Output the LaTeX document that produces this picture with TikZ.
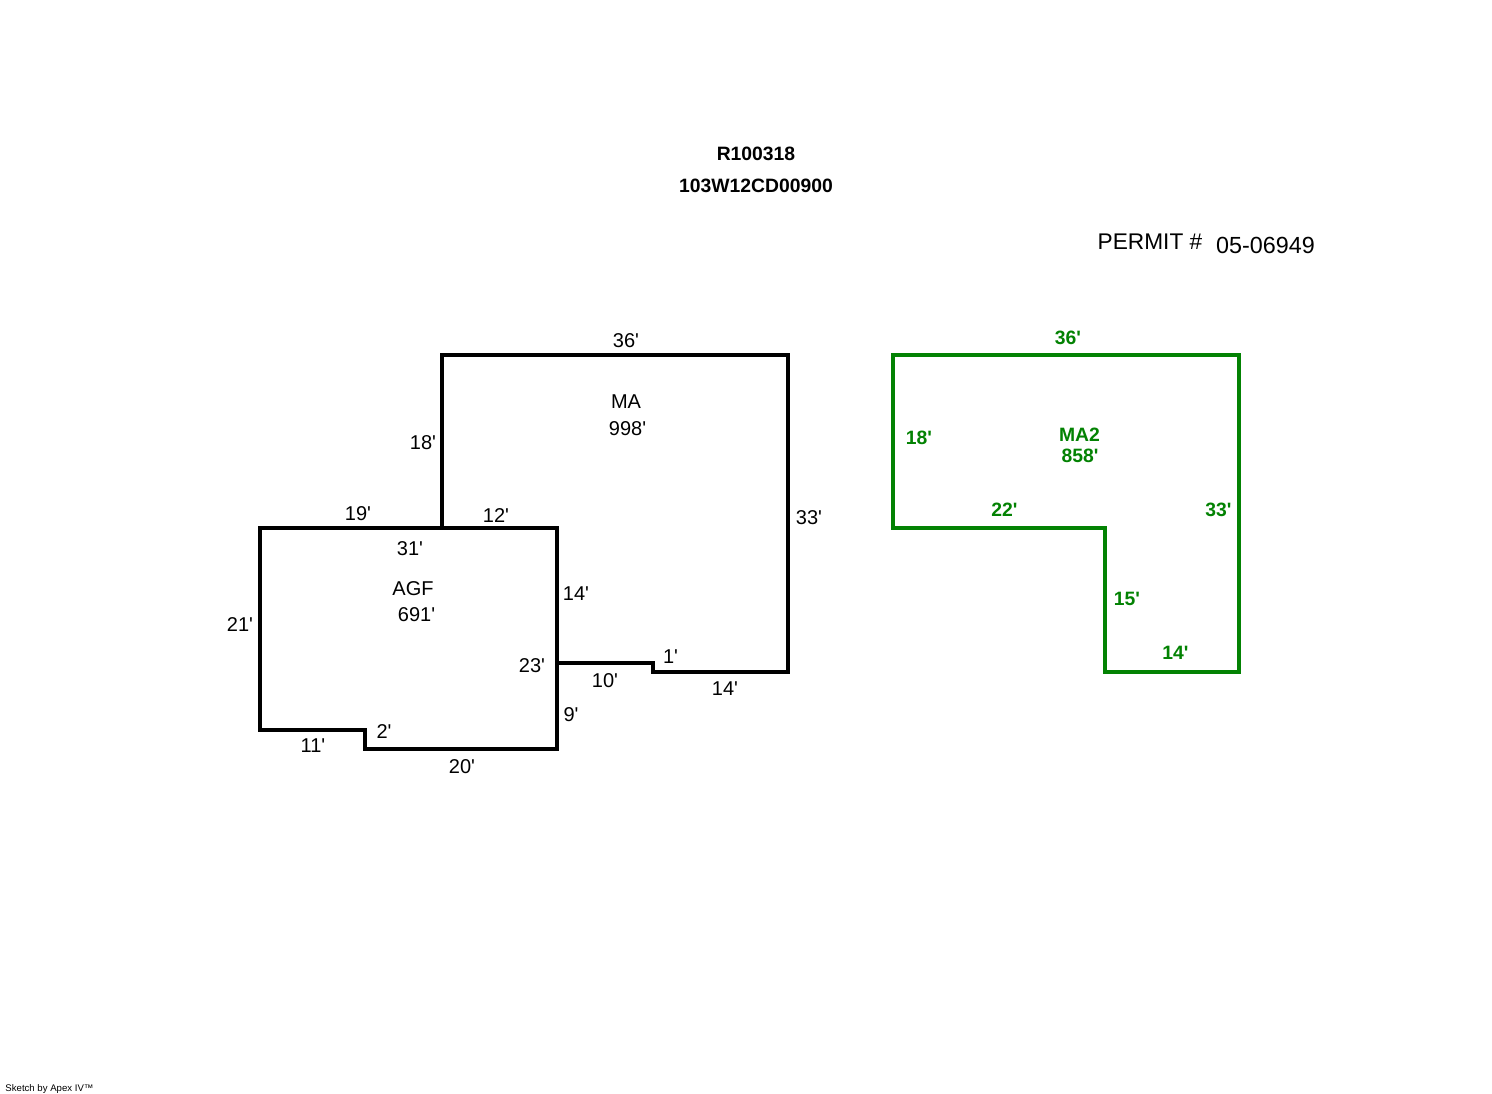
\documentclass[tikz,border=0pt]{standalone}
\usepackage{fontspec}
\newfontfamily\planfont{Liberation Sans}
\definecolor{plangreen}{HTML}{038203}
\tikzset{
  wall/.style={draw, line width=3pt, line join=miter},
  addition/.style={wall, draw=plangreen},
  dim/.style={inner sep=0pt, yshift=-0.75pt, font=\planfont\fontsize{15}{15}\selectfont},
  greendim/.style={inner sep=0pt, yshift=-0.75pt, text=plangreen, font=\planfont\bfseries\fontsize{14.5}{14.5}\selectfont},
  heading/.style={inner sep=0pt, yshift=-0.75pt, font=\planfont\bfseries\fontsize{14.5}{14.5}\selectfont},
  permit/.style={inner sep=0pt, font=\planfont\fontsize{17}{17}\selectfont}
  }

\begin{document}
\begin{tikzpicture}[x=0.75pt, y=-0.75pt]
	\useasboundingbox (0,0) rectangle (1492,1094);

	% Walls
	\draw [wall] (442,528) -- (442,355) -- (788,355) -- (788,672) -- (653,672) -- (653,663) -- (557,663);
	\draw [wall] (260,528) -- (557,528) -- (557,748.5) -- (365,748.5) -- (365,730) -- (260,730) -- cycle;
	\draw [addition] (893,355) -- (1239,355) -- (1239,672) -- (1104.5,672) -- (1104.5,528) -- (893,528) -- cycle;

	% Title
	\node[heading] (parcel) at (756,153) {R100318};
	\node[heading] (map) at (756,185) {103W12CD00900};
	\node[permit] (permit) at (1150,241.5) {PERMIT \#};
	\node[permit, font=\planfont\fontsize{17.5}{17.5}\selectfont] (permitno) at (1265.5,245) {05-06949};

	% Main area
	\node[dim] (matop) at (626,340) {36'};
	\node[dim] (ma) at (626,401) {MA};
	\node[dim] (maarea) at (627.5,428) {998'};
	\node[dim] (maleft) at (423,442) {18'};
	\node[dim] (maright) at (809,517) {33'};
	\node[dim] (mastep) at (670.5,656) {1'};
	\node[dim] (malow) at (605,680) {10'};
	\node[dim] (mabottom) at (725,688) {14'};
	\node[dim] (mainner) at (576,593) {14'};
	\node[dim] (matie) at (496,515) {12'};

	% Garage
	\node[dim] (agftie) at (358,513) {19'};
	\node[dim] (agftop) at (410,548) {31'};
	\node[dim] (agf) at (413,588) {AGF};
	\node[dim] (agfarea) at (416.5,614) {691'};
	\node[dim] (agfleft) at (240,624) {21'};
	\node[dim] (agfright) at (532,665) {23'};
	\node[dim] (agflow) at (571,714) {9'};
	\node[dim] (agfstep) at (384,731) {2'};
	\node[dim] (agfshort) at (313,745) {11'};
	\node[dim] (agfbottom) at (462,766) {20'};

	% Second floor
	\node[greendim] (matwotop) at (1068,337) {36'};
	\node[greendim] (matwoleft) at (919,437) {18'};
	\node[greendim] (matwo) at (1079.5,434) {MA2};
	\node[greendim] (matwoarea) at (1080,455) {858'};
	\node[greendim] (matwolow) at (1004.5,509) {22'};
	\node[greendim] (matworight) at (1218.5,509) {33'};
	\node[greendim] (matwoinner) at (1127,598) {15'};
	\node[greendim] (matwobottom) at (1175.5,652) {14'};

	% Etc.
	\node[inner sep=0pt, font=\planfont\fontsize{7.2}{7.2}\selectfont] (credit) at (49.5,1089) {Sketch by Apex IV™};
\end{tikzpicture}
\end{document}
